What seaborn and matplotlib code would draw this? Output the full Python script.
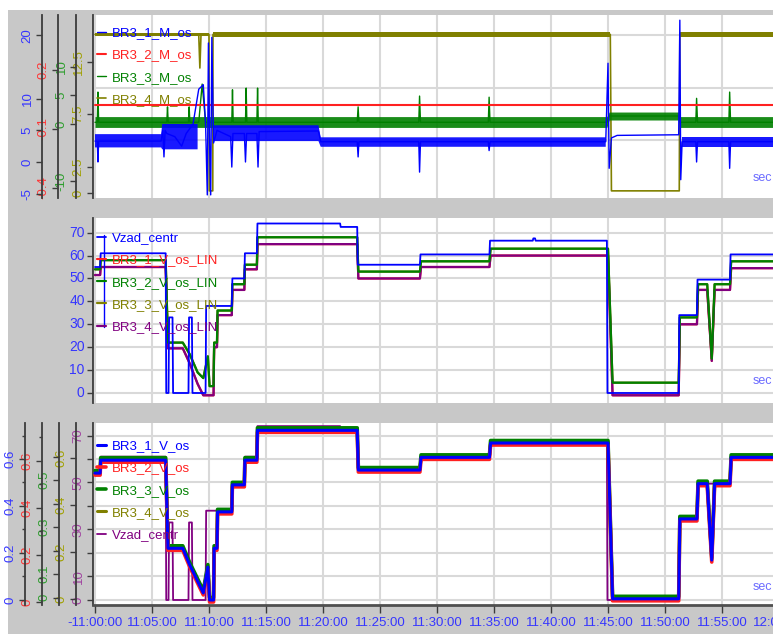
import numpy as np
import pandas as pd
import matplotlib
matplotlib.use("Agg")
import matplotlib.pyplot as plt
import seaborn as sns
from matplotlib.patches import Rectangle
from matplotlib.lines import Line2D
from matplotlib.ticker import MultipleLocator

# time axis in minutes after 11:00:00
xticks = [0, 5, 10, 15, 20, 25, 30, 35, 40, 45, 50, 55, 60]
xtick_labels = ["-11:00:00", "11:05:00", "11:10:00", "11:15:00", "11:20:00", "11:25:00",
                "11:30:00", "11:35:00", "11:40:00", "11:45:00", "11:50:00", "11:55:00", "12:00:00"]

# ---- panel 1: BR3_x_M_os ----
m1_t = [0, 0.2, 0.26, 0.32, 5.8, 5.95, 6.05, 6.15, 6.3, 7.0, 7.6, 8.0, 8.6, 9.1, 9.5, 9.7,
        9.85, 9.95, 10.05, 10.15, 10.25, 10.4, 10.7, 11.9, 12.0, 12.1, 13.1, 13.2, 13.3, 14.2,
        14.3, 14.4, 19.6, 19.8, 23.0, 23.08, 23.15, 28.4, 28.47, 28.55, 34.5, 34.57, 34.65,
        44.8, 45.0, 45.1, 45.3, 45.8, 51.2, 51.3, 51.38, 51.5, 52.7, 52.77, 52.85, 55.6, 55.67,
        55.75, 62]
m1_v = [3.3, 3.3, 0.0, 3.3, 3.3, 5.0, 0.8, 5.0, 4.5, 4.0, 2.5, 4.5, 6.0, 11.5, 12.2, 6.0,
        -5.2, 18.8, 3.0, -5.2, 19.7, 3.0, 5.0, 4.0, -0.8, 4.5, 4.5, 0.0, 4.5, 4.5,
        -0.8, 4.8, 4.9, 3.2, 3.2, 0.8, 3.2, 3.2, -1.6, 3.2, 3.2, 1.8, 3.2,
        3.2, 15.6, -1.0, 3.8, 4.2, 4.3, 22.4, -2.8, 3.2, 3.2, 0.0, 3.2, 3.2, -1.0,
        3.2, 3.2]
band1_t = [0, 5.8, 5.9, 9.0, np.nan, 10.4, 19.6, 19.8, 44.8, np.nan, 51.5, 62]
band1_lo = [2.3, 2.3, 2.0, 2.0, np.nan, 3.3, 3.3, 2.4, 2.4, np.nan, 2.4, 2.4]
band1_hi = [4.4, 4.4, 6.0, 6.0, np.nan, 5.8, 5.8, 3.9, 3.9, np.nan, 3.9, 3.9]

m2_t = [0, 62]
m2_v = [0.02, 0.02]

m3_t = [0, 0.2, 0.26, 0.32, 6.3, 6.36, 6.42, 8.2, 8.26, 8.32, 9.1, 9.4, 9.7, 12.0, 12.06, 12.12,
        13.2, 13.26, 13.32, 14.2, 14.26, 14.32, 23.0, 23.08, 23.15, 28.4, 28.47, 28.55, 34.5,
        34.57, 34.65, 44.9, 45.1, 51.2, 51.3, 52.7, 52.77, 52.85, 55.6, 55.67, 55.75, 62]
m3_v = [0.3, 0.3, 5.6, 0.3, 0.3, 3.0, 0.3, 0.3, 3.0, 0.3, 0.3, 7.0, 0.3, 0.3, 6.0, 0.3,
        0.3, 6.3, 0.3, 0.3, 6.3, 0.3, 0.3, 3.0, 0.3, 0.3, 4.9, 0.3, 0.3,
        4.7, 0.3, 0.3, 1.4, 1.4, 0.3, 0.3, 4.5, 0.3, 0.3, 5.6, 0.3, 0.3]
band3_t = [0, 44.9, 45.1, 51.2, 51.3, 62]
band3_lo = [-0.6, -0.6, 0.7, 0.7, -0.6, -0.6]
band3_hi = [1.3, 1.3, 2.1, 2.1, 1.3, 1.3]

m4_t = [0, 9.1, 9.2, 9.3, 10.0, 10.02, 10.33, 10.35, 45.2, 45.3, 51.25, 51.3, 62]
m4_v = [15.1, 15.1, 11.9, 15.1, 15.1, 0.2, 0.2, 15.1, 15.1, 0.2, 0.2, 15.1, 15.1]
band4_t = [0, 10.0, np.nan, 10.35, 45.2, np.nan, 51.3, 62]
band4_lo = [14.95, 14.95, np.nan, 14.85, 14.85, np.nan, 14.85, 14.85]
band4_hi = [15.25, 15.25, np.nan, 15.35, 15.35, np.nan, 15.35, 15.35]

# ---- Vzad_centr (panels 2 and 3) ----
vz_t = [0, 0.45, 0.5, 6.2, 6.25, 6.45, 6.5, 6.8, 6.85, 8.2, 8.25, 8.5, 8.55, 9.7, 9.75, 12.0,
        12.05, 13.1, 13.15, 14.2, 14.25, 21.5, 21.55, 23.0, 23.05, 28.5, 28.55, 34.6, 34.65,
        38.4, 38.45, 38.6, 38.65, 44.9, 44.95, 51.2, 51.25, 52.8, 52.85, 55.7, 55.75, 62]
vz_v = [55, 55, 61, 61, 0, 0, 33, 33, 0, 0, 33, 33, 0, 0, 38, 38,
        50, 50, 61, 61, 74, 74, 72.5, 72.5, 56, 56, 60.5, 60.5, 66.5,
        66.5, 67.5, 67.5, 66.5, 66.5, 0, 0, 34, 34, 49.5, 49.5, 60.5, 60.5]

# ---- measured speeds (panels 2 and 3) ----
sp_t = [0, 0.45, 0.5, 6.2, 6.4, 7.7, 8.3, 9.0, 9.5, 9.9, 10.05, 10.4, 10.45, 10.7, 10.75,
        12.0, 12.05, 13.1, 13.15, 14.2, 14.25, 23.0, 23.1, 28.5, 28.6, 34.6, 34.7, 45.0, 45.4,
        51.2, 51.3, 52.8, 52.9, 53.7, 54.1, 54.35, 55.7, 55.8, 62]
lin_green = [54, 54, 58, 58, 22, 22, 17, 9, 6.5, 16, 3, 3, 22, 22, 36,
             36, 47.5, 47.5, 56, 56, 68, 68, 53, 53, 57.5, 57.5, 63, 63, 4.5,
             4.5, 33, 33, 47.5, 47.5, 15, 47.5, 47.5, 57.5, 57.5]
lin_purple = [51.5, 51.5, 55, 55, 19.5, 19.5, 13, 4, -1, -1, -1, -1, 20, 20, 34,
              34, 45, 45, 54, 54, 65, 65, 50, 50, 55, 55, 60, 60, -1,
              -1, 30, 30, 45, 45, 14, 45, 45, 54.5, 54.5]
v_os = [0.54, 0.54, 0.595, 0.595, 0.22, 0.22, 0.15, 0.08, 0.03, 0.14, 0.0, 0.0, 0.22, 0.22, 0.375,
        0.375, 0.49, 0.49, 0.595, 0.595, 0.722, 0.722, 0.553, 0.553, 0.607, 0.607, 0.668, 0.668, 0.005,
        0.005, 0.345, 0.345, 0.495, 0.495, 0.17, 0.495, 0.495, 0.607, 0.607]

BLUE, RED, GREEN, OLIVE, PURPLE = '#0000ff', '#ff2020', '#008000', '#808000', '#800080'
TBLUE, TRED, TGREEN, TOLIVE, TPURPLE = '#3535ff', '#ff3535', '#2e9e2e', '#a0a000', '#a040a0'

sns.set_theme(style="white")
plt.rcParams['font.family'] = ['Liberation Sans', 'DejaVu Sans']

W, H = 773, 634
L, R = 93, 800
T0, T1 = -0.175, 61.84

fig = plt.figure(figsize=(W / 100, H / 100), dpi=100)
fig.add_artist(Rectangle((8 / W, 0), 1, 1 - 10 / H, transform=fig.transFigure,
                         facecolor='#c8c8c8', edgecolor='none', zorder=-5))


def panel(top, bottom):
    ax = fig.add_axes([L / W, 1 - bottom / H, (R - L) / W, (bottom - top) / H])
    ax.set_facecolor('white')
    ax.set_xlim(T0, T1)
    ax.set_xticks(xticks)
    ax.grid(axis='x', color='#d9d9d9', lw=1.5)
    ax.tick_params(axis='x', bottom=False, labelbottom=False)
    for s in ['top', 'right', 'bottom']:
        ax.spines[s].set_visible(False)
    ax.spines['left'].set_color('#3c3c3c')
    ax.spines['left'].set_linewidth(1.3)
    return ax


def twin(ax, xpx):
    tw = ax.twinx()
    tw.yaxis.set_ticks_position('left')
    for s in tw.spines.values():
        s.set_visible(False)
    tw.spines['left'].set_visible(True)
    tw.spines['left'].set_position(('axes', (xpx - L) / (R - L)))
    tw.spines['left'].set_color('#3c3c3c')
    tw.spines['left'].set_linewidth(1.3)
    tw.set_xlim(T0, T1)
    return tw


def yscale(ax, lim, ticks, labels, color, rot=90, size=9.5):
    ax.set_ylim(*lim)
    ax.set_yticks(ticks, labels)
    ax.tick_params(axis='y', which='both', left=True, right=False, labelleft=True,
                   labelright=False, labelcolor=color, labelsize=size, labelrotation=rot,
                   length=4, width=1, color='#3c3c3c', pad=2, direction='out')
    for lbl in ax.get_yticklabels():
        lbl.set_verticalalignment('center')


def line(ax, t, v, color, lw, label):
    sns.lineplot(x=t, y=v, ax=ax, color=color, lw=lw, estimator=None, sort=False, legend=False)
    h = ax.lines[-1]
    h.set_label(label)
    return h


def legend(ax, handles, anchor):
    ax.legend(handles=handles, loc='upper left', bbox_to_anchor=anchor, frameon=False,
              fontsize=9.5, handlelength=0.7, handletextpad=0.4, labelspacing=0.76,
              borderpad=0, borderaxespad=0, labelcolor='linecolor')


# ---------------- panel 1 ----------------
ax1 = panel(15, 198)
yscale(ax1, (-0.48, 16.95), [0, 2.5, 7.5, 12.5], ['0', '2.5', '7.5', '12.5'], TOLIVE)
ax1.yaxis.set_minor_locator(MultipleLocator(2.5))
ax1.tick_params(axis='y', which='minor', length=0)
ax1.grid(axis='y', which='minor', color='#d9d9d9', lw=1.5)
ax1.fill_between(band4_t, band4_lo, band4_hi, color=OLIVE, lw=0)
h4 = line(ax1, m4_t, m4_v, OLIVE, 1.2, 'BR3_4_M_os')

tg1 = twin(ax1, 76)
yscale(tg1, (-12.98, 19.12), [-10, 0, 5, 10], ['-10', '0', '5', '10'], TGREEN)
tg1.fill_between(band3_t, band3_lo, band3_hi, color=GREEN, lw=0, alpha=0.9)
h3 = line(tg1, m3_t, m3_v, GREEN, 1.0, 'BR3_3_M_os')

tr1 = twin(ax1, 58)
yscale(tr1, (-0.451, 0.479), [-0.4, -0.1, 0.2], ['-0.4', '-0.1', '0.2'], TRED)
h2 = line(tr1, m2_t, m2_v, RED, 1.5, 'BR3_2_M_os')

tb1 = twin(ax1, 42)
yscale(tb1, (-5.69, 23.22), [-5, 0, 5, 10, 20], ['-5', '0', '5', '10', '20'], TBLUE)
tb1.fill_between(band1_t, band1_lo, band1_hi, color=BLUE, lw=0, alpha=0.9)
h1 = line(tb1, m1_t, m1_v, BLUE, 1.0, 'BR3_1_M_os')
legend(tb1, [h1, h2, h3, h4], (0.0057, 0.934))

# ---------------- panel 2 ----------------
ax2 = panel(218, 403)
yscale(ax2, (-4.37, 76.4), [0, 10, 20, 30, 40, 50, 60, 70],
       ['0', '10', '20', '30', '40', '50', '60', '70'], TBLUE, rot=0, size=10)
ax2.grid(axis='y', which='major', color='#d9d9d9', lw=1.5)
g_red = line(ax2, sp_t, lin_purple, RED, 1.6, 'BR3_1_V_os_LIN')
g_olive = line(ax2, sp_t, lin_green, OLIVE, 1.6, 'BR3_3_V_os_LIN')
g_purple = line(ax2, sp_t, lin_purple, PURPLE, 1.6, 'BR3_4_V_os_LIN')
g_green = line(ax2, sp_t, lin_green, GREEN, 1.6, 'BR3_2_V_os_LIN')
g_vz = line(ax2, vz_t, vz_v, BLUE, 1.3, 'Vzad_centr')
legend(ax2, [g_vz, g_red, g_green, g_olive, g_purple], (0.0057, 0.924))
# bracket joining the legend entries
ax2.add_line(Line2D([0.0156, 0.0156], [0.41, 0.91], transform=ax2.transAxes,
                    color=BLUE, lw=1, zorder=5))

# ---------------- panel 3 ----------------
ax3 = panel(423, 605)
yscale(ax3, (-2.13, 75.32), [0, 10, 20, 30, 40, 50, 60, 70],
       ['0', '10', '', '30', '', '50', '', '70'], TPURPLE)
ax3.grid(axis='y', which='major', color='#d9d9d9', lw=1.5)
p_vz = line(ax3, vz_t, vz_v, PURPLE, 1.3, 'Vzad_centr')

to3 = twin(ax3, 76)
yscale(to3, (-0.0255, 0.749), [0, 0.2, 0.4, 0.6], ['0', '0.2', '0.4', '0.6'], TOLIVE)
p4 = line(to3, sp_t, v_os, OLIVE, 2.2, 'BR3_4_V_os')

tg3 = twin(ax3, 59)
yscale(tg3, (-0.0319, 0.7426), [0, 0.1, 0.2, 0.3, 0.4, 0.5, 0.6],
       ['0', '0.1', '', '0.3', '', '0.5', ''], TGREEN)
p3 = line(tg3, sp_t, v_os, GREEN, 2.6, 'BR3_3_V_os')

tr3 = twin(ax3, 42)
yscale(tr3, (-0.0128, 0.7617), [0, 0.2, 0.4, 0.6], ['0', '0.2', '0.4', '0.6'], TRED)
tr3.yaxis.set_minor_locator(MultipleLocator(0.1))
tr3.tick_params(axis='y', which='minor', length=2)
p2 = line(tr3, sp_t, v_os, RED, 2.6, 'BR3_2_V_os')

tb3 = twin(ax3, 25)
yscale(tb3, (-0.0213, 0.7532), [0, 0.2, 0.4, 0.6], ['0', '0.2', '0.4', '0.6'], TBLUE)
tb3.yaxis.set_minor_locator(MultipleLocator(0.1))
tb3.tick_params(axis='y', which='minor', length=2)
p1 = line(tb3, sp_t, v_os, BLUE, 2.2, 'BR3_1_V_os')
legend(tb3, [p1, p2, p3, p4, p_vz], (0.0057, 0.907))

ax3.spines['bottom'].set_visible(True)
ax3.spines['bottom'].set_color('#505050')
ax3.spines['bottom'].set_linewidth(2)
ax3.tick_params(axis='x', bottom=True, labelbottom=True, length=6, width=1,
                color='#3c3c3c', labelcolor=TBLUE, labelsize=9.5, pad=3)
ax3.set_xticklabels(xtick_labels)

for ypx in [178, 381, 587]:
    fig.text(753 / W, 1 - ypx / H, 'sec', color='#6b6bff', fontsize=9, va='center')

fig.savefig('out.png', dpi=100)
